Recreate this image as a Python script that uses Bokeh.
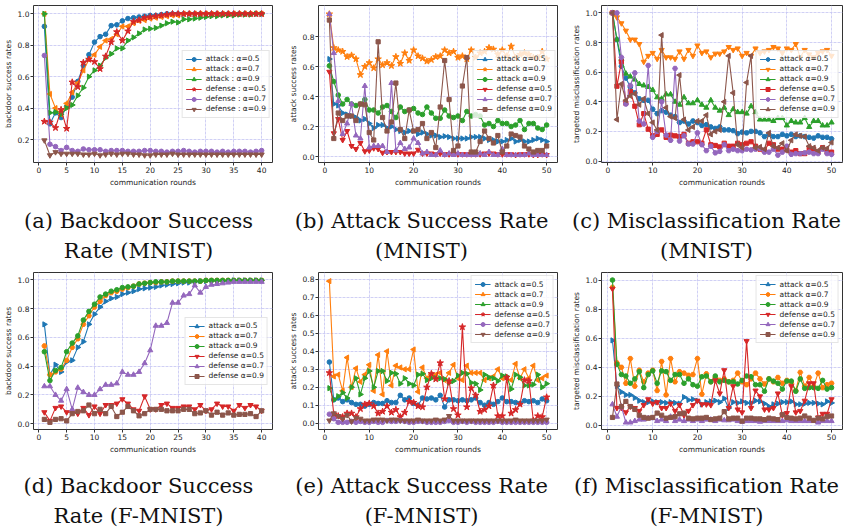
import math
from bokeh.plotting import figure
from bokeh.models import Range1d, FixedTicker, PrintfTickFormatter
from bokeh.layouts import column, row
from bokeh.embed import file_html
from bokeh.resources import INLINE
from bokeh.core.properties import value

COLORS = ["#1f77b4", "#ff7f0e", "#2ca02c", "#d62728", "#9467bd", "#8c564b"]

rounds40 = list(range(1, 41))
rounds50 = list(range(1, 51))

# ---------------- (a) Backdoor success rate (MNIST) ----------------
a_att05 = [0.92, 0.30, 0.37, 0.34, 0.41, 0.47, 0.57, 0.67, 0.74, 0.82,
           0.855, 0.87, 0.925, 0.93, 0.955, 0.97, 0.975, 0.98, 0.985, 0.99,
           0.99, 0.995, 1.0, 1.0, 1.0, 1.0, 1.0, 1.0, 1.0, 1.0,
           1.0, 1.0, 1.0, 1.0, 1.0, 1.0, 1.0, 1.0, 1.0, 1.0]
a_att07 = [1.0, 0.49, 0.40, 0.36, 0.43, 0.50, 0.56, 0.64, 0.71, 0.74,
           0.79, 0.83, 0.84, 0.87, 0.92, 0.92, 0.94, 0.955, 0.96, 0.97,
           0.975, 0.98, 0.985, 0.99, 0.99, 1.0, 1.0, 1.0, 1.0, 1.0,
           1.0, 1.0, 1.0, 1.0, 1.0, 1.0, 1.0, 1.0, 1.0, 1.0]
a_att09 = [1.0, 0.37, 0.375, 0.36, 0.40, 0.42, 0.48, 0.53, 0.60, 0.64,
           0.67, 0.72, 0.745, 0.78, 0.78, 0.83, 0.85, 0.875, 0.90, 0.905,
           0.91, 0.925, 0.94, 0.95, 0.945, 0.965, 0.965, 0.97, 0.975, 0.98,
           0.985, 0.985, 0.99, 0.99, 0.99, 0.995, 0.995, 0.995, 1.0, 1.0]
a_def05 = [0.315, 0.31, 0.275, 0.39, 0.27, 0.565, 0.535, 0.69, 0.71, 0.695,
           0.65, 0.73, 0.82, 0.885, 0.83, 0.89, 0.95, 0.96, 0.975, 0.98,
           0.985, 0.99, 0.995, 1.0, 1.0, 1.0, 1.0, 1.0, 1.0, 1.0,
           1.0, 1.0, 1.0, 1.0, 1.0, 1.0, 1.0, 1.0, 1.0, 1.0]
a_def07 = [0.735, 0.17, 0.155, 0.13, 0.15, 0.13, 0.125, 0.14, 0.135, 0.135,
           0.135, 0.125, 0.13, 0.13, 0.13, 0.125, 0.125, 0.125, 0.13, 0.13,
           0.125, 0.125, 0.12, 0.125, 0.125, 0.13, 0.125, 0.12, 0.125, 0.125,
           0.125, 0.12, 0.125, 0.12, 0.125, 0.125, 0.125, 0.12, 0.125, 0.13]
a_def09 = [0.195, 0.10, 0.12, 0.11, 0.11, 0.11, 0.11, 0.105, 0.105, 0.11,
           0.10, 0.105, 0.11, 0.105, 0.11, 0.11, 0.105, 0.105, 0.10, 0.10,
           0.105, 0.105, 0.105, 0.11, 0.105, 0.105, 0.105, 0.105, 0.105, 0.105,
           0.105, 0.105, 0.105, 0.105, 0.105, 0.105, 0.105, 0.105, 0.105, 0.105]

# ---------------- (b) Attack success rate (MNIST) ----------------
b_att05 = [0.65, 0.35, 0.34, 0.29, 0.28, 0.27, 0.26, 0.24, 0.25, 0.22,
           0.19, 0.21, 0.21, 0.19, 0.20, 0.18, 0.17, 0.16, 0.17, 0.17,
           0.15, 0.16, 0.15, 0.14, 0.14, 0.13, 0.135, 0.13, 0.12, 0.12,
           0.12, 0.12, 0.13, 0.13, 0.13, 0.12, 0.11, 0.11, 0.10, 0.10,
           0.11, 0.12, 0.10, 0.11, 0.10, 0.10, 0.11, 0.12, 0.11, 0.10]
b_att07 = [0.95, 0.725, 0.71, 0.70, 0.665, 0.675, 0.65, 0.545, 0.60, 0.625,
           0.59, 0.65, 0.61, 0.625, 0.605, 0.665, 0.62, 0.69, 0.64, 0.71,
           0.67, 0.655, 0.635, 0.645, 0.665, 0.67, 0.71, 0.69, 0.70, 0.66,
           0.67, 0.65, 0.71, 0.66, 0.69, 0.70, 0.725, 0.715, 0.68, 0.71,
           0.67, 0.735, 0.66, 0.68, 0.69, 0.68, 0.66, 0.66, 0.70, 0.65]
b_att09 = [0.605, 0.50, 0.41, 0.35, 0.38, 0.35, 0.34, 0.35, 0.38, 0.31,
           0.31, 0.29, 0.33, 0.34, 0.30, 0.26, 0.33, 0.30, 0.31, 0.32,
           0.29, 0.28, 0.33, 0.29, 0.255, 0.255, 0.31, 0.27, 0.26, 0.27,
           0.24, 0.30, 0.27, 0.28, 0.27, 0.21, 0.22, 0.20, 0.24, 0.22,
           0.22, 0.20, 0.21, 0.24, 0.18, 0.22, 0.22, 0.19, 0.18, 0.21]
b_def05 = [0.565, 0.155, 0.25, 0.11, 0.17, 0.07, 0.05, 0.09, 0.035, 0.04,
           0.055, 0.05, 0.025, 0.03, 0.03, 0.03, 0.03, 0.02, 0.02, 0.02,
           0.045, 0.02, 0.02, 0.02, 0.015, 0.02, 0.015, 0.015, 0.02, 0.015,
           0.015, 0.015, 0.015, 0.015, 0.015, 0.02, 0.02, 0.02, 0.015, 0.015,
           0.015, 0.015, 0.01, 0.015, 0.015, 0.015, 0.01, 0.01, 0.015, 0.01]
b_def07 = [0.95, 0.69, 0.37, 0.15, 0.22, 0.35, 0.14, 0.12, 0.47, 0.06,
           0.07, 0.07, 0.07, 0.03, 0.49, 0.04, 0.09, 0.05, 0.06, 0.12,
           0.09, 0.02, 0.03, 0.01, 0.01, 0.04, 0.01, 0.02, 0.01, 0.02,
           0.01, 0.01, 0.01, 0.01, 0.02, 0.01, 0.03, 0.01, 0.01, 0.05,
           0.01, 0.01, 0.01, 0.01, 0.01, 0.02, 0.01, 0.01, 0.01, 0.01]
b_def09 = [0.91, 0.12, 0.29, 0.24, 0.27, 0.27, 0.24, 0.35, 0.345, 0.16,
           0.11, 0.765, 0.26, 0.17, 0.23, 0.49, 0.18, 0.12, 0.31, 0.17,
           0.18, 0.22, 0.12, 0.16, 0.06, 0.33, 0.64, 0.38, 0.04, 0.07,
           0.47, 0.66, 0.03, 0.03, 0.10, 0.17, 0.12, 0.09, 0.14, 0.03,
           0.07, 0.15, 0.14, 0.13, 0.07, 0.05, 0.03, 0.04, 0.04, 0.07]

# ---------------- (c) Misclassification rate (MNIST) ----------------
c_att05 = [1.0, 0.82, 0.64, 0.56, 0.50, 0.46, 0.42, 0.41, 0.41, 0.35,
           0.32, 0.34, 0.33, 0.31, 0.30, 0.26, 0.27, 0.25, 0.27, 0.26,
           0.24, 0.245, 0.23, 0.22, 0.23, 0.21, 0.21, 0.205, 0.185, 0.195,
           0.19, 0.20, 0.20, 0.19, 0.165, 0.18, 0.165, 0.165, 0.18, 0.17,
           0.18, 0.165, 0.17, 0.165, 0.16, 0.155, 0.17, 0.16, 0.16, 0.15]
c_att07 = [1.0, 0.97, 0.93, 0.88, 0.82, 0.82, 0.79, 0.67, 0.71, 0.73,
           0.69, 0.75, 0.70, 0.70, 0.69, 0.74, 0.69, 0.75, 0.71, 0.78,
           0.73, 0.74, 0.70, 0.725, 0.725, 0.74, 0.77, 0.75, 0.76, 0.71,
           0.73, 0.71, 0.76, 0.73, 0.74, 0.75, 0.77, 0.76, 0.73, 0.76,
           0.75, 0.79, 0.70, 0.75, 0.72, 0.70, 0.73, 0.74, 0.75, 0.71]
c_att09 = [1.0, 0.82, 0.69, 0.59, 0.57, 0.55, 0.52, 0.51, 0.50, 0.48,
           0.43, 0.42, 0.45, 0.45, 0.40, 0.38, 0.43, 0.39, 0.39, 0.41,
           0.38, 0.36, 0.41, 0.36, 0.34, 0.36, 0.31, 0.35, 0.33, 0.33,
           0.32, 0.37, 0.33, 0.28, 0.28, 0.28, 0.27, 0.29, 0.29, 0.24,
           0.27, 0.26, 0.26, 0.29, 0.23, 0.27, 0.27, 0.24, 0.24, 0.26]
c_def05 = [1.0, 0.505, 0.67, 0.39, 0.47, 0.37, 0.245, 0.32, 0.215, 0.17,
           0.18, 0.21, 0.16, 0.175, 0.17, 0.165, 0.18, 0.12, 0.13, 0.13,
           0.12, 0.21, 0.11, 0.105, 0.095, 0.12, 0.10, 0.10, 0.12, 0.11,
           0.12, 0.13, 0.10, 0.08, 0.07, 0.12, 0.11, 0.08, 0.08, 0.075,
           0.06, 0.07, 0.05, 0.05, 0.09, 0.08, 0.06, 0.09, 0.06, 0.06]
c_def07 = [1.0, 1.0, 0.70, 0.385, 0.51, 0.595, 0.27, 0.25, 0.645, 0.16,
           0.20, 0.40, 0.175, 0.14, 0.625, 0.135, 0.17, 0.115, 0.115, 0.19,
           0.11, 0.07, 0.10, 0.055, 0.065, 0.11, 0.07, 0.08, 0.07, 0.07,
           0.08, 0.075, 0.08, 0.085, 0.06, 0.06, 0.08, 0.04, 0.06, 0.10,
           0.045, 0.05, 0.05, 0.055, 0.06, 0.05, 0.05, 0.08, 0.05, 0.045]
c_def09 = [1.0, 0.28, 0.52, 0.41, 0.44, 0.455, 0.38, 0.42, 0.32, 0.26,
           0.21, 0.85, 0.36, 0.30, 0.29, 0.58, 0.28, 0.21, 0.23, 0.27,
           0.27, 0.31, 0.18, 0.20, 0.21, 0.40, 0.71, 0.46, 0.11, 0.09,
           0.53, 0.71, 0.09, 0.095, 0.08, 0.19, 0.10, 0.09, 0.12, 0.07,
           0.14, 0.18, 0.17, 0.165, 0.10, 0.09, 0.07, 0.09, 0.085, 0.125]

# ---------------- (d) Backdoor success rate (F-MNIST) ----------------
d_att05 = [0.69, 0.34, 0.41, 0.36, 0.43, 0.44, 0.53, 0.57, 0.69, 0.76,
           0.81, 0.85, 0.87, 0.88, 0.90, 0.91, 0.92, 0.935, 0.94, 0.945,
           0.95, 0.96, 0.965, 0.97, 0.975, 0.98, 0.98, 0.985, 0.99, 0.99,
           0.99, 0.99, 0.99, 0.99, 0.995, 0.995, 0.995, 0.995, 0.995, 0.995]
d_att07 = [0.54, 0.34, 0.36, 0.38, 0.44, 0.53, 0.59, 0.69, 0.75, 0.81,
           0.85, 0.89, 0.91, 0.92, 0.935, 0.945, 0.955, 0.97, 0.975, 0.98,
           0.98, 0.985, 0.985, 0.99, 0.99, 0.99, 0.99, 0.99, 0.99, 0.995,
           0.995, 0.995, 0.995, 0.995, 0.995, 0.995, 0.995, 0.995, 0.995, 0.995]
d_att09 = [0.50, 0.30, 0.37, 0.39, 0.50, 0.56, 0.61, 0.72, 0.78, 0.83,
           0.88, 0.90, 0.92, 0.93, 0.945, 0.95, 0.955, 0.97, 0.975, 0.98,
           0.985, 0.985, 0.985, 0.99, 0.99, 0.99, 0.99, 0.99, 0.99, 0.995,
           0.995, 0.995, 0.995, 0.995, 0.995, 0.995, 0.995, 0.995, 0.995, 0.995]
d_def05 = [0.08, 0.02, 0.11, 0.12, 0.08, 0.08, 0.07, 0.11, 0.06, 0.12,
           0.07, 0.13, 0.13, 0.14, 0.17, 0.14, 0.10, 0.09, 0.19, 0.10,
           0.10, 0.13, 0.14, 0.11, 0.11, 0.12, 0.12, 0.10, 0.13, 0.09,
           0.10, 0.14, 0.12, 0.12, 0.09, 0.13, 0.11, 0.13, 0.12, 0.09]
d_def07 = [0.26, 0.26, 0.20, 0.16, 0.24, 0.10, 0.25, 0.22, 0.20, 0.20,
           0.24, 0.27, 0.27, 0.28, 0.36, 0.34, 0.34, 0.36, 0.42, 0.51,
           0.68, 0.68, 0.70, 0.84, 0.84, 0.89, 0.90, 0.96, 0.91, 0.95,
           0.965, 0.97, 0.975, 0.98, 0.985, 0.985, 0.985, 0.985, 0.985, 0.985]
d_def09 = [0.03, 0.01, 0.03, 0.035, 0.02, 0.07, 0.085, 0.09, 0.13, 0.07,
           0.10, 0.07, 0.12, 0.05, 0.08, 0.12, 0.09, 0.055, 0.07, 0.10,
           0.10, 0.10, 0.09, 0.09, 0.09, 0.10, 0.10, 0.07, 0.075, 0.09,
           0.06, 0.08, 0.06, 0.075, 0.06, 0.065, 0.065, 0.07, 0.05, 0.09]

# ---------------- (e) Attack success rate (F-MNIST) ----------------
e_att05 = [0.34, 0.13, 0.14, 0.12, 0.13, 0.115, 0.105, 0.105, 0.095, 0.105,
           0.115, 0.11, 0.11, 0.125, 0.115, 0.115, 0.155, 0.13, 0.14, 0.11,
           0.10, 0.14, 0.135, 0.14, 0.13, 0.155, 0.09, 0.13, 0.13, 0.125,
           0.13, 0.125, 0.13, 0.14, 0.115, 0.10, 0.115, 0.105, 0.12, 0.14,
           0.12, 0.12, 0.115, 0.11, 0.125, 0.12, 0.125, 0.115, 0.135, 0.125]
e_att07 = [0.79, 0.26, 0.27, 0.18, 0.365, 0.20, 0.305, 0.23, 0.27, 0.325,
           0.18, 0.38, 0.16, 0.40, 0.21, 0.32, 0.31, 0.30, 0.30, 0.41,
           0.175, 0.31, 0.25, 0.27, 0.27, 0.28, 0.24, 0.28, 0.325, 0.25,
           0.24, 0.32, 0.28, 0.28, 0.28, 0.24, 0.25, 0.26, 0.30, 0.25,
           0.25, 0.24, 0.33, 0.25, 0.30, 0.25, 0.32, 0.24, 0.25, 0.265]
e_att09 = [0.195, 0.13, 0.15, 0.17, 0.14, 0.20, 0.25, 0.16, 0.25, 0.29,
           0.20, 0.29, 0.29, 0.235, 0.28, 0.275, 0.22, 0.25, 0.22, 0.21,
           0.27, 0.275, 0.24, 0.25, 0.25, 0.25, 0.245, 0.225, 0.235, 0.265,
           0.28, 0.275, 0.225, 0.22, 0.185, 0.27, 0.255, 0.25, 0.235, 0.265,
           0.26, 0.19, 0.27, 0.255, 0.21, 0.21, 0.215, 0.27, 0.20, 0.22]
e_def05 = [0.28, 0.05, 0.04, 0.035, 0.055, 0.055, 0.035, 0.08, 0.105, 0.11,
           0.095, 0.055, 0.065, 0.095, 0.06, 0.075, 0.035, 0.06, 0.12, 0.115,
           0.095, 0.09, 0.20, 0.275, 0.245, 0.335, 0.135, 0.235, 0.08, 0.045,
           0.535, 0.09, 0.195, 0.155, 0.065, 0.075, 0.095, 0.21, 0.04, 0.04,
           0.255, 0.055, 0.075, 0.105, 0.24, 0.235, 0.015, 0.04, 0.035, 0.145]
e_def07 = [0.05, 0.025, 0.005, 0.005, 0.005, 0.01, 0.005, 0.01, 0.005, 0.005,
           0.01, 0.005, 0.005, 0.015, 0.01, 0.01, 0.015, 0.01, 0.005, 0.005,
           0.01, 0.01, 0.005, 0.005, 0.005, 0.005, 0.01, 0.015, 0.005, 0.005,
           0.01, 0.005, 0.01, 0.005, 0.005, 0.005, 0.005, 0.005, 0.01, 0.005,
           0.005, 0.005, 0.005, 0.005, 0.005, 0.005, 0.005, 0.005, 0.005, 0.005]
e_def09 = [0.015, 0.055, 0.04, 0.025, 0.045, 0.01, 0.03, 0.025, 0.015, 0.015,
           0.02, 0.02, 0.02, 0.015, 0.02, 0.02, 0.015, 0.015, 0.015, 0.015,
           0.02, 0.015, 0.015, 0.015, 0.02, 0.015, 0.02, 0.04, 0.015, 0.015,
           0.015, 0.015, 0.015, 0.015, 0.015, 0.015, 0.015, 0.015, 0.015, 0.015,
           0.015, 0.015, 0.02, 0.015, 0.015, 0.015, 0.015, 0.015, 0.015, 0.02]

# ---------------- (f) Misclassification rate (F-MNIST) ----------------
f_att05 = [0.585, 0.27, 0.23, 0.21, 0.21, 0.19, 0.17, 0.16, 0.16, 0.165,
           0.16, 0.16, 0.155, 0.16, 0.155, 0.15, 0.195, 0.175, 0.18, 0.17,
           0.145, 0.16, 0.165, 0.17, 0.16, 0.185, 0.12, 0.16, 0.155, 0.165,
           0.155, 0.155, 0.17, 0.165, 0.15, 0.13, 0.145, 0.15, 0.16, 0.16,
           0.165, 0.145, 0.145, 0.15, 0.155, 0.155, 0.15, 0.145, 0.165, 0.155]
f_att07 = [0.95, 0.43, 0.40, 0.29, 0.46, 0.27, 0.38, 0.30, 0.36, 0.38,
           0.24, 0.44, 0.21, 0.46, 0.30, 0.37, 0.36, 0.345, 0.35, 0.46,
           0.215, 0.355, 0.30, 0.33, 0.31, 0.32, 0.30, 0.31, 0.36, 0.30,
           0.28, 0.32, 0.36, 0.32, 0.285, 0.32, 0.30, 0.33, 0.29, 0.31,
           0.29, 0.24, 0.365, 0.27, 0.33, 0.27, 0.36, 0.26, 0.28, 0.29]
f_att09 = [1.0, 0.42, 0.35, 0.34, 0.29, 0.32, 0.37, 0.26, 0.35, 0.375,
           0.29, 0.375, 0.37, 0.31, 0.35, 0.35, 0.29, 0.32, 0.28, 0.27,
           0.335, 0.34, 0.30, 0.34, 0.30, 0.31, 0.30, 0.30, 0.285, 0.31,
           0.34, 0.335, 0.28, 0.28, 0.235, 0.32, 0.305, 0.29, 0.25, 0.305,
           0.305, 0.235, 0.32, 0.255, 0.26, 0.26, 0.255, 0.31, 0.25, 0.26]
f_def05 = [0.94, 0.12, 0.12, 0.09, 0.13, 0.12, 0.10, 0.14, 0.18, 0.15,
           0.16, 0.12, 0.12, 0.15, 0.10, 0.14, 0.07, 0.10, 0.14, 0.17,
           0.145, 0.145, 0.14, 0.31, 0.22, 0.38, 0.12, 0.27, 0.11, 0.09,
           0.58, 0.12, 0.24, 0.20, 0.11, 0.11, 0.12, 0.22, 0.07, 0.085,
           0.27, 0.09, 0.10, 0.17, 0.29, 0.29, 0.055, 0.08, 0.08, 0.18]
f_def07 = [0.145, 0.06, 0.13, 0.02, 0.02, 0.03, 0.04, 0.04, 0.05, 0.05,
           0.03, 0.04, 0.03, 0.06, 0.03, 0.04, 0.03, 0.04, 0.03, 0.04,
           0.03, 0.04, 0.04, 0.03, 0.04, 0.035, 0.035, 0.04, 0.03, 0.025,
           0.03, 0.03, 0.03, 0.025, 0.03, 0.03, 0.03, 0.03, 0.03, 0.035,
           0.03, 0.03, 0.03, 0.03, 0.03, 0.03, 0.02, 0.03, 0.03, 0.03]
f_def09 = [0.055, 0.285, 0.13, 0.165, 0.13, 0.11, 0.07, 0.055, 0.05, 0.055,
           0.085, 0.07, 0.05, 0.055, 0.06, 0.08, 0.085, 0.05, 0.045, 0.05,
           0.05, 0.055, 0.04, 0.045, 0.05, 0.095, 0.045, 0.05, 0.05, 0.03,
           0.05, 0.05, 0.045, 0.045, 0.04, 0.05, 0.045, 0.04, 0.075, 0.055,
           0.05, 0.045, 0.05, 0.065, 0.05, 0.035, 0.05, 0.045, 0.06, 0.065]

labels_colon = ["attack : \u03b1=0.5", "attack : \u03b1=0.7", "attack : \u03b1=0.9",
                "defense : \u03b1=0.5", "defense : \u03b1=0.7", "defense : \u03b1=0.9"]
labels_plain = ["attack \u03b1=0.5", "attack \u03b1=0.7", "attack \u03b1=0.9",
                "defense \u03b1=0.5", "defense \u03b1=0.7", "defense \u03b1=0.9"]

ticks_x40 = [0, 5, 10, 15, 20, 25, 30, 35, 40]
ticks_x50 = [0, 10, 20, 30, 40, 50]
ticks_y_a = [0.2, 0.4, 0.6, 0.8, 1.0]
ticks_y_01 = [0.0, 0.2, 0.4, 0.6, 0.8, 1.0]
ticks_y_08 = [0.0, 0.2, 0.4, 0.6, 0.8]
ticks_y_e = [0.0, 0.1, 0.2, 0.3, 0.4, 0.5, 0.6, 0.7, 0.8]

HALF_PI = math.pi / 2
MARKERS = {
    "o": ("circle", 0.0, 4.6),
    "h": ("hex", 0.0, 5.0),
    "<": ("triangle", HALF_PI, 5.2),
    ">": ("triangle", -HALF_PI, 5.2),
    "^": ("triangle", 0.0, 5.2),
    "v": ("inverted_triangle", 0.0, 5.2),
    "*": ("star", 0.0, 6.8),
    "s": ("square", 0.0, 4.2),
}

FONT = "DejaVu Sans"
TXT = "#222222"


def panel(width, left, right, height, xr, yr, xticks, yticks, ylabel,
          xs, series, marks, labels, loc, margin):
    p = figure(width=width, height=height,
               x_range=Range1d(*xr), y_range=Range1d(*yr),
               output_backend="svg", toolbar_location=None,
               min_border_left=left, min_border_right=right,
               min_border_top=5, min_border_bottom=28)
    p.background_fill_color = "white"
    p.border_fill_color = "white"
    p.outline_line_color = "#333333"
    p.outline_line_width = 1
    p.xaxis.ticker = FixedTicker(ticks=xticks)
    p.yaxis.ticker = FixedTicker(ticks=yticks)
    p.yaxis.formatter = PrintfTickFormatter(format="%.1f")
    for ax in (p.xaxis[0], p.yaxis[0]):
        ax.axis_line_color = None
        ax.major_tick_line_color = "#333333"
        ax.major_tick_out = 3
        ax.major_tick_in = 0
        ax.minor_tick_line_color = None
        ax.major_label_text_font = FONT
        ax.major_label_text_font_size = "7.5px"
        ax.major_label_text_color = TXT
        ax.major_label_standoff = 1
        ax.axis_label_text_font = FONT
        ax.axis_label_text_font_size = "7.5px"
        ax.axis_label_text_font_style = "normal"
        ax.axis_label_text_color = TXT
        ax.axis_label_standoff = 2
    p.xaxis.axis_label = "communication rounds"
    p.yaxis.axis_label = ylabel
    p.grid.grid_line_color = "#c4c4f2"
    p.grid.grid_line_width = 0.8
    p.grid.grid_line_dash = "3 1"
    for ys, mk, col, lab in zip(series, marks, COLORS, labels):
        name, ang, size = MARKERS[mk]
        p.line(xs, ys, line_color=col, line_width=1.1, legend_label=lab)
        p.scatter(xs, ys, marker=name, angle=ang, size=size,
                  fill_color=col, line_color=col, legend_label=lab)
    lg = p.legend[0]
    lg.location = loc
    lg.margin = margin
    lg.padding = 3
    lg.spacing = 0
    lg.glyph_width = 16
    lg.glyph_height = 10
    lg.label_height = 10
    lg.label_standoff = 4
    lg.label_text_font = FONT
    lg.label_text_font_size = "7.5px"
    lg.label_text_color = TXT
    lg.border_line_color = "#cccccc"
    lg.border_line_width = 1
    lg.background_fill_alpha = 0.8
    return p


def caption(width, height, cx, y1, y2, line1, line2):
    c = figure(width=width, height=height,
               x_range=Range1d(0, width), y_range=Range1d(height, 0),
               output_backend="svg", toolbar_location=None,
               x_axis_location=None, y_axis_location=None, min_border=0)
    c.grid.visible = False
    c.outline_line_color = None
    c.text(x=[cx, cx], y=[y1, y2], text=[line1, line2],
           text_font=value("DejaVu Serif"), text_font_size="21px",
           text_align="center", text_baseline="middle", text_color="#111111")
    return c


H1 = 190
H2 = 190
XR40 = (-0.95, 41.95)
XR50 = (-1.45, 52.45)

pa = panel(285, 32, 13, H1, XR40, (0.054, 1.053), ticks_x40, ticks_y_a,
           "backdoor success rates", rounds40,
           [a_att05, a_att07, a_att09, a_def05, a_def07, a_def09],
           ["o", "<", ">", "*", "o", "v"], labels_colon, "center_right", 2)
pb = panel(280, 32, 8, H1, XR50, (-0.04, 1.007), ticks_x50, ticks_y_08,
           "attack success rates", rounds50,
           [b_att05, b_att07, b_att09, b_def05, b_def07, b_def09],
           [">", "*", "o", "v", "^", "s"], labels_plain, "center_right", 1)
pc = panel(281, 36, 4, H1, XR50, (-0.01, 1.05), ticks_x50, ticks_y_01,
           "targeted misclassification rates", rounds50,
           [c_att05, c_att07, c_att09, c_def05, c_def07, c_def09],
           ["h", "v", "^", "s", "h", "<"], labels_plain, "center_right", 3)
pd = panel(285, 32, 13, H2, XR40, (-0.04, 1.05), ticks_x40, ticks_y_01,
           "backdoor success rates", rounds40,
           [d_att05, d_att07, d_att09, d_def05, d_def07, d_def09],
           [">", "h", "o", "v", "^", "s"], labels_plain, "center_right", 4)
pe = panel(280, 32, 8, H2, XR50, (-0.035, 0.838), ticks_x50, ticks_y_e,
           "attack success rates", rounds50,
           [e_att05, e_att07, e_att09, e_def05, e_def07, e_def09],
           ["o", "<", ">", "*", "o", "v"], labels_plain, "top_right", 3)
pf = panel(281, 36, 4, H2, XR50, (-0.028, 1.052), ticks_x50, ticks_y_01,
           "targeted misclassification rates", rounds50,
           [f_att05, f_att07, f_att09, f_def05, f_def07, f_def09],
           [">", "h", "o", "v", "^", "s"], labels_plain, "top_right", 3)

ca = caption(285, 77, 138, 30, 60, "(a) Backdoor Success", "Rate (MNIST)")
cb = caption(280, 77, 136, 30, 60, "(b) Attack Success Rate", "(MNIST)")
cc = caption(281, 77, 141, 30, 60, "(c) Misclassification Rate", "(MNIST)")
cd = caption(285, 70, 138, 28, 58, "(d) Backdoor Success", "Rate (F-MNIST)")
ce = caption(280, 70, 136, 28, 58, "(e) Attack Success Rate", "(F-MNIST)")
cf = caption(281, 70, 141, 28, 58, "(f) Misclassification Rate", "(F-MNIST)")

layout = column(row(pa, pb, pc), row(ca, cb, cc), row(pd, pe, pf), row(cd, ce, cf))

open("out.html", "w").write(file_html(layout, INLINE, "Backdoor and attack success rates"))
